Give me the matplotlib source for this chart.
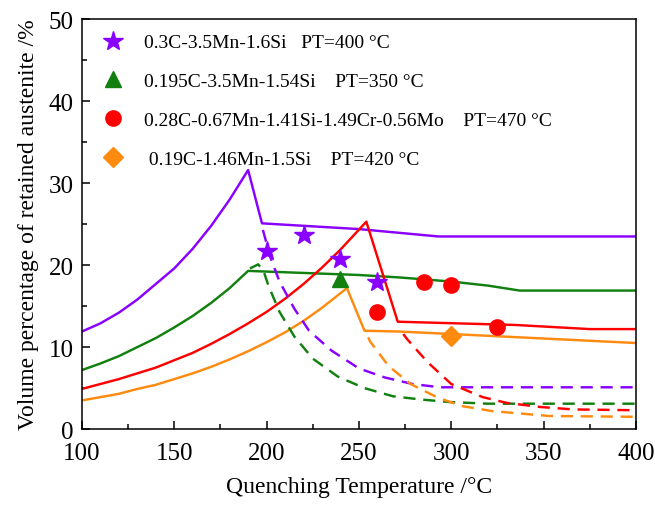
import matplotlib
matplotlib.use("Agg")
import matplotlib.pyplot as plt
from matplotlib.lines import Line2D
from matplotlib.ticker import MultipleLocator

plt.rcParams["font.family"] = ["Liberation Serif", "DejaVu Serif"]

# =============================================================================
# Data
# =============================================================================
# solid lines (model, retained austenite after partitioning)
purple_x = [100, 110, 120, 130, 140, 150, 160, 170, 180, 190, 197.5, 250, 293, 400]
purple_y = [11.9, 12.9, 14.2, 15.8, 17.7, 19.6, 22.0, 24.8, 28.0, 31.6, 25.1, 24.4, 23.5, 23.5]

green_x = [100, 110, 120, 130, 140, 150, 160, 170, 180, 190, 250, 272, 300, 320, 337, 400]
green_y = [7.2, 8.0, 8.9, 10.0, 11.1, 12.4, 13.8, 15.4, 17.2, 19.3, 18.8, 18.5, 18.0, 17.5, 16.9, 16.9]

red_x = [100, 110, 120, 130, 140, 150, 160, 170, 180, 190, 200, 210, 220, 230, 240, 254,
         271, 335, 375, 400]
red_y = [4.9, 5.5, 6.1, 6.8, 7.5, 8.4, 9.3, 10.4, 11.6, 12.9, 14.3, 15.9, 17.7, 19.7, 21.9, 25.3,
         13.1, 12.7, 12.2, 12.2]

orange_x = [100, 110, 120, 130, 140, 150, 160, 170, 180, 190, 200, 210, 220, 230, 243.5,
            253, 272, 300, 400]
orange_y = [3.5, 3.9, 4.3, 4.9, 5.4, 6.1, 6.8, 7.6, 8.5, 9.5, 10.6, 11.8, 13.2, 14.8, 17.2,
            12.0, 11.9, 11.6, 10.5]

# dashed lines (model, final retained austenite)
purple_dx = [198, 202, 207, 215, 223, 235, 250, 264, 279, 294, 400]
purple_dy = [24.3, 21.0, 18.0, 14.7, 12.0, 9.6, 7.4, 6.3, 5.5, 5.1, 5.1]

green_dx = [191, 195.5, 198.5, 201, 207, 215, 225, 238.6, 253, 268.5, 284, 299, 320, 400]
green_dy = [19.6, 20.1, 19.2, 17.5, 14.3, 11.3, 8.6, 6.4, 5.0, 4.0, 3.6, 3.3, 3.1, 3.1]

red_dx = [274, 276, 287, 300, 317, 330, 348, 366, 400]
red_dy = [11.6, 11.0, 8.2, 5.5, 3.9, 3.2, 2.7, 2.4, 2.3]

orange_dx = [255, 256, 266, 278, 293, 306, 322, 353, 400]
orange_dy = [11.2, 10.7, 7.7, 5.5, 3.8, 2.8, 2.2, 1.6, 1.5]

# experimental points
star_x = [200, 220, 240, 260]
star_y = [21.7, 23.7, 20.8, 17.9]
tri_x = [240]
tri_y = [18.3]
circ_x = [260, 285, 300, 325]
circ_y = [14.3, 18.0, 17.6, 12.4]
diam_x = [300]
diam_y = [11.3]

labels = [
    "0.3C-3.5Mn-1.6Si   PT=400 °C",
    "0.195C-3.5Mn-1.54Si    PT=350 °C",
    "0.28C-0.67Mn-1.41Si-1.49Cr-0.56Mo    PT=470 °C",
    " 0.19C-1.46Mn-1.5Si    PT=420 °C",
]

PURPLE = "#8a00ff"
GREEN = "#11800f"
RED = "#ff0000"
ORANGE = "#ff8a10"

# =============================================================================
# Plot
# =============================================================================
fig = plt.figure(figsize=(6.55, 5.06), dpi=100)
ax = fig.add_axes([0.125, 0.150, 0.846, 0.810])

lw = 1.75
dash = (0, (5, 3.2))
for x, y, c in [(purple_x, purple_y, PURPLE), (green_x, green_y, GREEN),
                (red_x, red_y, RED), (orange_x, orange_y, ORANGE)]:
    ax.plot(x, y, color=c, lw=lw)
for x, y, c in [(purple_dx, purple_dy, PURPLE), (green_dx, green_dy, GREEN),
                (red_dx, red_dy, RED), (orange_dx, orange_dy, ORANGE)]:
    ax.plot(x, y, color=c, lw=lw, linestyle=dash)

ax.plot(star_x, star_y, "*", color=PURPLE, ms=15, mec=PURPLE, zorder=5)
ax.plot(tri_x, tri_y, "^", color=GREEN, ms=12, mec=GREEN, zorder=5)
ax.plot(circ_x, circ_y, "o", color=RED, ms=11, mec=RED, zorder=5)
ax.plot(diam_x, diam_y, "D", color=ORANGE, ms=10, mec=ORANGE, zorder=5)

handles = [
    Line2D([], [], ls="none", marker="*", color=PURPLE, ms=15),
    Line2D([], [], ls="none", marker="^", color=GREEN, ms=12),
    Line2D([], [], ls="none", marker="o", color=RED, ms=11),
    Line2D([], [], ls="none", marker="D", color=ORANGE, ms=10),
]
ax.legend(handles, labels, loc="upper left", frameon=False, fontsize=14,
          handletextpad=0.6, labelspacing=1.09, borderaxespad=0.35,
          bbox_to_anchor=(-0.005, 1.0))

ax.set_xlim(100, 400)
ax.set_ylim(0, 50)
ax.xaxis.set_major_locator(MultipleLocator(50))
ax.xaxis.set_minor_locator(MultipleLocator(25))
ax.yaxis.set_major_locator(MultipleLocator(10))
ax.yaxis.set_minor_locator(MultipleLocator(5))
ax.tick_params(which="both", direction="in", top=False, right=False, labelsize=18)
ax.tick_params(which="major", length=6, width=1.1)
ax.tick_params(which="minor", length=3.5, width=1.1)
ax.tick_params(axis="x", pad=9)
ax.tick_params(axis="y", pad=6)
for s in ax.spines.values():
    s.set_linewidth(1.1)

ax.set_xlabel("Quenching Temperature /°C", fontsize=17, labelpad=9)
ax.set_ylabel("Volume percentage of retained austenite /%", fontsize=17, labelpad=7)

fig.savefig("out.png", dpi=100)
